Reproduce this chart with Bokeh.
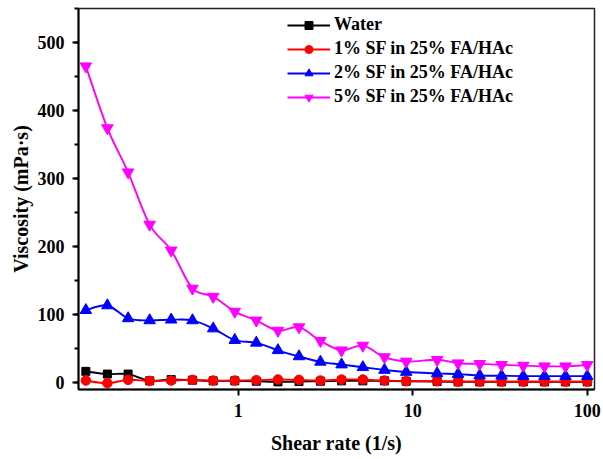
import numpy as np
from bokeh.plotting import figure
from bokeh.models import Range1d, SingleIntervalTicker, FixedTicker, NumeralTickFormatter, Legend, LegendItem, ColumnDataSource
from bokeh.embed import file_html
from bokeh.resources import INLINE

# ---- data ----
shear_rate = [0.134, 0.178, 0.234, 0.311, 0.413, 0.547, 0.719, 0.956, 1.27, 1.69, 2.23, 2.96,
              3.91, 5.18, 6.89, 9.18, 13.8, 18.2, 24.2, 32.3, 43.0, 56.9, 75.1, 100.0]
water = [16, 12, 12, 2, 4, 3, 2, 2, 1.5, 0.5, 1, 1.5, 2, 2, 2, 1.5, 1, 0.5, 0.5, 0.5, 0.5, 0.5, 0.5, 0.5]
sf1 = [2.5, -1.4, 3.5, 2, 2.5, 3.5, 2.5, 2.5, 3, 4, 3.5, 2.5, 4, 4, 2.5, 1.5, 1.5, 1, 1, 1, 1, 1, 1, 1]
sf2 = [106, 113, 94, 91, 92, 91, 79, 62, 58, 47, 38, 30, 26, 22, 18, 15, 13, 12, 10, 9.5, 9, 9, 9, 9]
sf5 = [465, 374, 309, 232, 194, 138, 126, 104, 91, 76, 81, 61, 47, 54, 37, 30.5, 33, 28, 27, 25.5,
       24.5, 23.5, 23.5, 25.5]

series_names = ["Water", "1% SF in 25% FA/HAc", "2% SF in 25% FA/HAc", "5% SF in 25% FA/HAc"]
series_values = [water, sf1, sf2, sf5]
colors = ["#000000", "#FF0000", "#0000FF", "#FF00FF"]
markers = ["square", "circle", "triangle", "inverted_triangle"]
msizes = [8, 9.5, 11.5, 11.5]

y_ticks_interval = 100
x_ticks = [1, 10, 100]

FONT = "Liberation Serif"


def spline_segments(xs, ys):
    """Catmull-Rom curve through the data points, expressed as cubic Bezier
    control points (computed in log-x space), for drawing with p.bezier."""
    u = np.log10(np.asarray(xs, dtype=float))
    v = np.asarray(ys, dtype=float)
    n = len(u)
    up = np.concatenate([[u[0]], u, [u[-1]]])
    vp = np.concatenate([[v[0]], v, [v[-1]]])
    out = {k: [] for k in ("x0", "y0", "x1", "y1", "cx0", "cy0", "cx1", "cy1")}
    for i in range(n - 1):
        j = i + 1
        c1u = up[j] + (up[j + 1] - up[j - 1]) / 6.0
        c1v = vp[j] + (vp[j + 1] - vp[j - 1]) / 6.0
        c2u = up[j + 1] - (up[j + 2] - up[j]) / 6.0
        c2v = vp[j + 1] - (vp[j + 2] - vp[j]) / 6.0
        out["x0"].append(10 ** up[j]); out["y0"].append(vp[j])
        out["x1"].append(10 ** up[j + 1]); out["y1"].append(vp[j + 1])
        out["cx0"].append(10 ** c1u); out["cy0"].append(c1v)
        out["cx1"].append(10 ** c2u); out["cy1"].append(c2v)
    return out


p = figure(width=603, height=459, x_axis_type="log",
           x_range=Range1d(0.1216, 110.1), y_range=Range1d(-10.7, 550),
           output_backend="svg", toolbar_location=None,
           min_border_left=78, min_border_right=9, min_border_top=8, min_border_bottom=70)

p.xgrid.visible = False
p.ygrid.visible = False
p.outline_line_color = "#222222"
p.outline_line_width = 1.5

items = []
for name, vals, col, mk, ms in zip(series_names, series_values, colors, markers, msizes):
    seg = spline_segments(shear_rate, vals)
    br = p.bezier(x0="x0", y0="y0", x1="x1", y1="y1", cx0="cx0", cy0="cy0", cx1="cx1", cy1="cy1",
                  source=ColumnDataSource(seg), line_color=col, line_width=1.9)
    sr = p.scatter(shear_rate, vals, marker=mk, size=ms, fill_color=col, line_color=col)
    items.append(LegendItem(label=name, renderers=[br, sr]))

legend = Legend(items=items, location=(209, 282))
legend.border_line_color = None
legend.background_fill_alpha = 0
legend.padding = 0
legend.margin = 0
legend.spacing = 3
legend.glyph_width = 43
legend.glyph_height = 20
legend.label_height = 20
legend.label_standoff = 4
legend.label_text_font = FONT
legend.label_text_font_style = "bold"
legend.label_text_font_size = "18px"
legend.label_text_color = "#000000"
p.add_layout(legend, "center")

# axes
for ax in (p.xaxis[0], p.yaxis[0]):
    ax.axis_line_width = 2
    ax.axis_line_color = "#000000"
    ax.major_tick_line_width = 2
    ax.minor_tick_line_width = 2
    ax.major_tick_out = 6
    ax.major_tick_in = 0
    ax.minor_tick_out = 4
    ax.minor_tick_in = 0
    ax.major_label_text_font = FONT
    ax.major_label_text_font_style = "bold"
    ax.major_label_text_font_size = "18px"
    ax.major_label_text_color = "#000000"
    ax.axis_label_text_font = FONT
    ax.axis_label_text_font_style = "bold"
    ax.axis_label_text_font_size = "20px"
    ax.axis_label_text_color = "#000000"

p.xaxis.ticker = FixedTicker(ticks=x_ticks)
p.xaxis.formatter = NumeralTickFormatter(format="0")
p.xaxis.minor_tick_line_color = None
p.xaxis.axis_label = "Shear rate (1/s)"
p.xaxis.major_label_standoff = 8
p.xaxis.axis_label_standoff = 12

p.yaxis.ticker = SingleIntervalTicker(interval=y_ticks_interval, num_minor_ticks=2)
p.yaxis.axis_label = "Viscosity (mPa·s)"
p.yaxis.major_label_standoff = 8
p.yaxis.axis_label_standoff = 3

open("out.html", "w").write(file_html(p, INLINE))
